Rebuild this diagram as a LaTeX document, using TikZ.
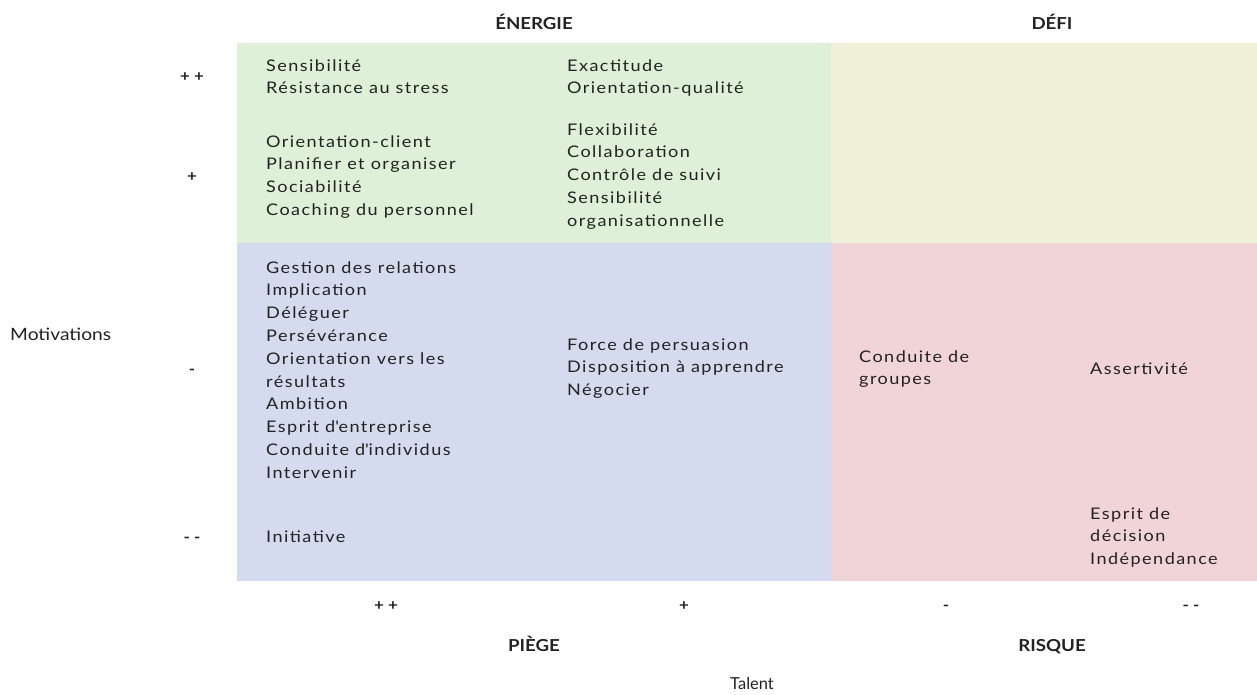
\documentclass[tikz,border=0pt]{standalone}
\usepackage{fontspec}
\setmainfont{Lato}[FakeStretch=1.13, LetterSpace=9]
\newfontfamily\headfont{Lato Bold}[FakeStretch=1.13]
\newfontfamily\axisfont{Lato}[FakeStretch=1.13]
\newfontfamily\talentfont{Lato}
\definecolor{energie}{HTML}{DFF0D8}
\definecolor{defi}{HTML}{F0F0D8}
\definecolor{piege}{HTML}{D5DBEE}
\definecolor{risque}{HTML}{F0D4D8}
\definecolor{ink}{HTML}{222222}
% a left-aligned list whose baseline is that of its first line
\newcommand{\itemlist}[1]{\begin{tabular}[t]{@{}l@{}}#1\end{tabular}}
\newcommand{\apos}{\textquotesingle}
\tikzset{
  items/.style={anchor=base west, inner sep=0pt, text=ink,
    font=\fontsize{16}{22.8}\selectfont},
  head/.style={anchor=base, inner sep=0pt, text=ink, font=\headfont\fontsize{16.5}{20}\selectfont},
  level/.style={anchor=base, inner sep=0pt, text=ink, font=\headfont\fontsize{15}{18}\selectfont},
}
\begin{document}
\begin{tikzpicture}[x=1pt,y=-1pt]
\useasboundingbox (0,0) rectangle (1257,694);
% quadrants
\fill[energie] (237,43) rectangle (831,243);
\fill[defi] (831,43) rectangle (1257,243);
\fill[piege] (237,243) rectangle (831,581);
\fill[risque] (831,243) rectangle (1257,581);

% quadrant titles
\node[head] (tEnergie) at (534,29) {ÉNERGIE};
\node[head] (tDefi) at (1052,29) {DÉFI};
\node[head] (tPiege) at (534,651) {PIÈGE};
\node[head] (tRisque) at (1052,651) {RISQUE};

% axis names
\node[anchor=base west, inner sep=0pt, text=ink, font=\axisfont\fontsize{17}{20}\selectfont] (motiv) at (10,340) {Motivations};
\node[anchor=base, inner sep=0pt, text=ink, font=\talentfont\fontsize{16.5}{20}\selectfont] (talent) at (752,689) {Talent};

% motivation levels
\node[level] (m1) at (192,81) {+ +};
\node[level] (m2) at (192,181) {+};
\node[level] (m3) at (192,374) {-};
\node[level] (m4) at (192,542) {- -};

% talent levels
\node[level] (t1) at (386,610) {+ +};
\node[level] (t2) at (684,610) {+};
\node[level] (t3) at (946,610) {-};
\node[level] (t4) at (1191,610) {- -};

% energie
\node[items] (e11) at (266,71) {\itemlist{Sensibilité\\Résistance au stress}};
\node[items] (e12) at (266,147) {\itemlist{Orientation-client\\Planifier et organiser\\Sociabilité\\Coaching du personnel}};
\node[items] (e21) at (567,71) {\itemlist{Exactitude\\Orientation-qualité}};
\node[items] (e22) at (567,135) {\itemlist{Flexibilité\\Collaboration\\Contrôle de suivi\\Sensibilité\\organisationnelle}};

% piege
\node[items] (p11) at (266,273) {\itemlist{Gestion des relations\\Implication\\Déléguer\\Persévérance\\Orientation vers les\\résultats\\Ambition\\Esprit d\apos entreprise\\Conduite d\apos individus\\Intervenir}};
\node[items] (p12) at (266,542) {Initiative};
\node[items] (p21) at (567,350) {\itemlist{Force de persuasion\\Disposition à apprendre\\Négocier}};

% risque
\node[items] (r11) at (859,362) {\itemlist{Conduite de\\groupes}};
\node[items] (r21) at (1090,374) {Assertivité};
\node[items] (r22) at (1090,519) {\itemlist{Esprit de\\décision\\Indépendance}};
\end{tikzpicture}
\end{document}
